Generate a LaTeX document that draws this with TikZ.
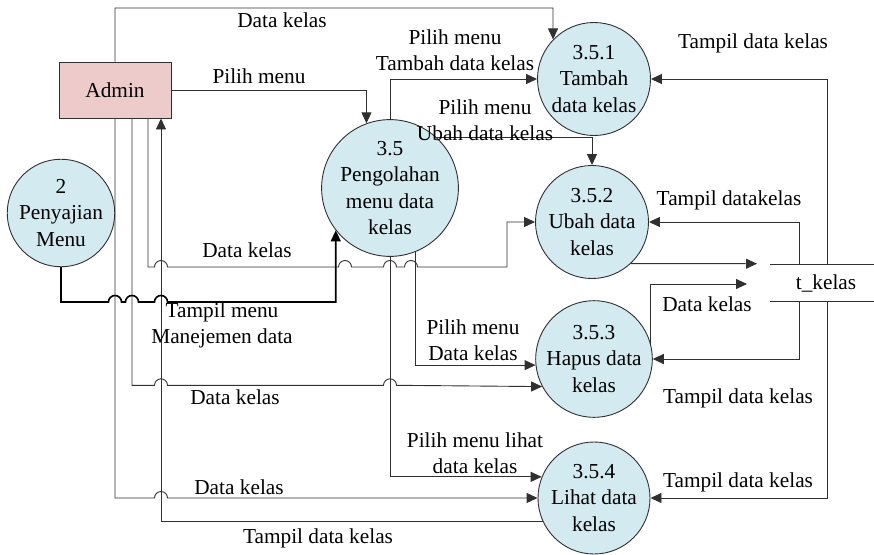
\documentclass[tikz,border=0pt]{standalone}
\usepackage{fontspec}
\setmainfont{Liberation Serif}
\newfontfamily\tnrfont{Liberation Serif}
\usetikzlibrary{arrows.meta}
\definecolor{procfill}{HTML}{D3EAF0}
\definecolor{entfill}{HTML}{EDCBCB}
\definecolor{linecol}{HTML}{303030}
\begin{document}
\begin{tikzpicture}[x=1pt,y=-1pt,
  every node/.style={font=\tnrfont\fontsize{21.3pt}{26pt}\selectfont, inner sep=0pt},
  proc/.style={circle, draw=linecol, line width=0.9pt, fill=procfill, minimum size=113pt, align=center, font=\tnrfont\fontsize{21.3pt}{26.5pt}\selectfont},
  entity/.style={rectangle, draw=linecol, line width=0.9pt, fill=entfill, minimum width=112pt, minimum height=56pt},
  lbl/.style={align=center},
  flow/.style={draw=linecol, line width=0.9pt},
  thickflow/.style={draw=black, line width=1.6pt},
  arr/.style={-{Triangle[length=11pt,width=10pt]}},
  hop/.style 2 args={insert path={-- ({#1-6.5},#2) arc[start angle=180,end angle=0,radius=6.5pt]}}
]
\useasboundingbox (0,0) rectangle (874,554);

% nodes
\node[entity] (admin) at (115,90) {Admin};
\node[proc, minimum size=97pt] (p2) at (61,213) {2\\Penyajian\\Menu};
\node[proc, minimum size=114pt] (p35) at (390,188) {3.5\\Pengolahan\\menu data\\kelas};
\node[proc] (p351) at (594,79) {3.5.1\\Tambah\\data kelas};
\node[proc] (p352) at (592,222) {3.5.2\\Ubah data\\kelas};
\node[proc, minimum size=112pt] (p353) at (594,359) {3.5.3\\Hapus data\\kelas};
\node[proc, minimum size=112pt] (p354) at (594,498) {3.5.4\\Lihat data\\kelas};

% data store
\node (store) at (826,283) {t\_kelas};
\coordinate (stTL) at (770,264);
\coordinate (stTR) at (874,264);
\coordinate (stBL) at (770,301);
\coordinate (stBR) at (874,301);
\coordinate (stT1) at (799,264);
\coordinate (stT2) at (827,264);
\coordinate (stB1) at (799,301);
\coordinate (stB2) at (827,301);
\coordinate (stIn1) at (757,263.7);
\coordinate (stIn2) at (747,284);
\draw[flow] (stTL) -- (stTR);
\draw[flow] (stBL) -- (stBR);

% admin connectors
\draw[flow,arr] (admin.north) -- (115,8) -- (553,8) -- (p351.136);
\draw[flow,arr] (admin.east) -| (p35.110);
\draw[flow,arr] (admin.south) -- (115,498) [hop={161}{498}] -- (p354.west);
\draw[flow,arr] (132,0 |- admin.south) -- (132,385.3) [hop={161}{385.3}] [hop={390}{385.3}] -- (p353.208);
\draw[flow,arr] (148,0 |- admin.south) -- (148,267) [hop={161}{267}] [hop={345}{267}] [hop={390}{267}] [hop={411}{267}] -- (507,267) |- (p352.west);
\draw[flow,arr] (p354.205) -| (161,0 |- admin.south);
\draw[thickflow,arr] (p2.south) -- (61,302) [hop={115}{302}] [hop={132}{302}] [hop={161}{302}] -- (p35.218 |- 0,302) -- (p35.218);

% process 3.5 connectors
\draw[flow,arr] (p35.north) |- (p351.west);
\draw[flow,arr] (p35.47) -| (p352.north);
\draw[flow,arr] (p35.292) |- (p353.186);
\draw[flow,arr] (p35.south) |- (p354.158);

% store connectors
\draw[flow,arr] (stT2) |- (p351.east);
\draw[flow,arr] (stT1) |- (p352.east);
\draw[flow,arr] (p352.313) -- (stIn1);
\draw[flow,arr] (p353.15) |- (stIn2);
\draw[flow,arr] (stB1) |- (p353.east);
\draw[flow,arr] (stB2) |- (p354.east);

% labels
\node[lbl] (l1) at (282,20) {Data kelas};
\node[lbl] (l2) at (259,76) {Pilih menu};
\node[lbl] (l3) at (455,50) {Pilih menu\\Tambah data kelas};
\node[lbl] (l4) at (485,120) {Pilih menu\\Ubah data kelas};
\node[lbl] (l5) at (247,250) {Data kelas};
\node[lbl] (l6) at (222,325) {Tampil menu\\Manejemen data};
\node[lbl] (l7) at (473,340) {Pilih menu\\Data kelas};
\node[lbl] (l8) at (235,397) {Data kelas};
\node[lbl] (l9) at (475,453) {Pilih menu lihat\\data kelas};
\node[lbl] (l10) at (239,487) {Data kelas};
\node[lbl] (l11) at (318,538) {Tampil data kelas};
\node[lbl] (l12) at (753,43) {Tampil data kelas};
\node[lbl] (l13) at (729,200) {Tampil datakelas};
\node[lbl] (l14) at (707,304) {Data kelas};
\node[lbl] (l15) at (738,398) {Tampil data kelas};
\node[lbl] (l16) at (738,482) {Tampil data kelas};
\end{tikzpicture}
\end{document}
